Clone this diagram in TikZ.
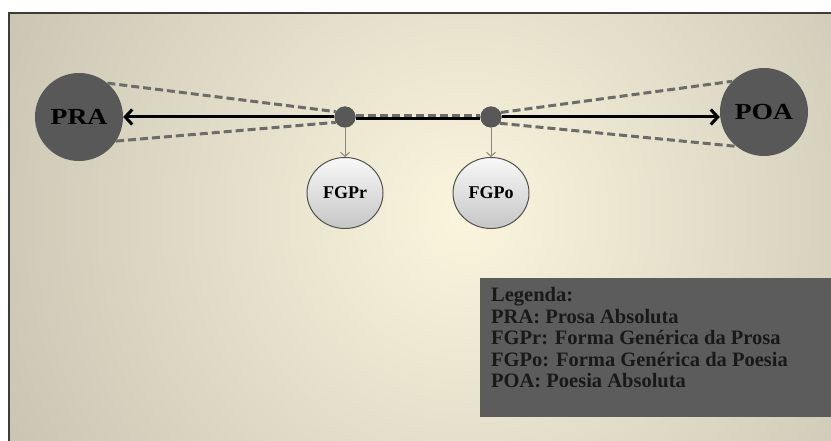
\documentclass[tikz,border=0pt]{standalone}
\usepackage{fontspec}
\setmainfont{Liberation Serif}
\newfontfamily\widefont[FakeStretch=1.2]{Liberation Serif}
\usetikzlibrary{arrows.meta,shapes.geometric}
\definecolor{cream}{RGB}{251,245,222}
\definecolor{edgegray}{RGB}{152,151,136}
\definecolor{darkfill}{RGB}{88,88,88}
\definecolor{dashgray}{RGB}{108,108,104}
\definecolor{thingray}{RGB}{135,135,125}
\definecolor{framegray}{RGB}{60,60,60}
\definecolor{legfill}{RGB}{92,92,92}
\tikzset{
  bigcirc/.style={circle, fill=darkfill, minimum size=88pt, inner sep=0pt,
    font=\widefont\fontsize{23}{25}\selectfont\bfseries, text=black},
  dot/.style={circle, fill=darkfill, minimum size=21pt, inner sep=0pt},
  formcirc/.style={ellipse, draw=thingray!60!black, line width=1pt,
    top color=white!95!gray, bottom color=gray!45, minimum width=76pt, minimum height=71pt,
    inner sep=0pt, font=\fontsize{18}{20}\selectfont\bfseries, text=black},
  mainarrow/.style={line width=3pt, black, -{Straight Barb[length=7pt,width=15pt,line width=3pt]}},
  dashline/.style={line width=3pt, dashgray, dash pattern=on 8pt off 4pt},
  downarrow/.style={line width=1pt, thingray, -{Straight Barb[length=4pt,width=9pt,line width=1pt]}},
  legendbox/.style={fill=legfill, draw=none}
}
\begin{document}
\begin{tikzpicture}[x=1pt,y=-1pt]
\useasboundingbox (0,0) rectangle (831,441);
\fill[white] (0,0) rectangle (831,441);
\begin{scope}
  \clip (9,13) rectangle (831,441);
  \fill[edgegray] (9,13) rectangle (831,441);
  \shade[inner color=cream, outer color=edgegray] (465,215) circle (1000);
\end{scope}
\draw[framegray, line width=2.2pt] (9,441) -- (9,13) -- (831,13);

% nodes
\node[bigcirc] (PRA) at (79,117) {PRA};
\node[bigcirc] (POA) at (764,112) {POA};
\node[dot] (d1) at (345,117) {};
\node[dot] (d2) at (491,117) {};
\node[formcirc] (FGPr) at (345,193) {FGPr};
\node[formcirc] (FGPo) at (491,193) {FGPo};

% main arrows
\draw[mainarrow] (d1) -- (PRA.east |- d1);
\draw[mainarrow] (d2) -- (POA.west |- d2);
\draw[line width=3pt, black] ([yshift=-1.5pt]d1.east) -- ([yshift=-1.5pt]d2.west);

% dashed lines
\draw[dashline] (PRA.50) -- (d1.150);
\draw[dashline] (PRA.-33) -- (d1.-150);
\draw[dashline] (d2.25) -- (POA.136);
\draw[dashline] (d2.-36) -- (POA.-129);
\draw[dashline] ([yshift=1.5pt]d1.east) -- ([yshift=1.5pt]d2.west);

% dots on top
\node[dot] at (d1) {};
\node[dot] at (d2) {};

% down arrows
\draw[downarrow] (d1.south) -- (FGPr.north);
\draw[downarrow] (d2.south) -- (FGPo.north);

% legend
\fill[legendbox] (480,278) coordinate (legA) rectangle (831,417);
\node[anchor=north west, align=left, inner sep=0pt, text=black!90,
  font=\fontsize{20.5}{21.6}\selectfont\bfseries] (legend) at (491,287)
  {Legenda:\\PRA: Prosa Absoluta\\FGPr: Forma Genérica da Prosa\\FGPo: Forma Genérica da Poesia\\POA: Poesia Absoluta};
\end{tikzpicture}
\end{document}
